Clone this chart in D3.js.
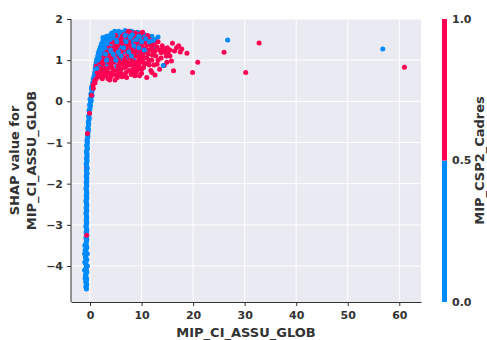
<!DOCTYPE html>
<html>
<head>
<meta charset="utf-8">
<script src="https://cdn.jsdelivr.net/npm/d3@7"></script>
<style>
  body { margin: 0; background: #fff; }
  text { font-family: "DejaVu Sans", sans-serif; font-weight: bold; fill: #333; }
</style>
</head>
<body>
<svg id="chart"></svg>
<script>
// tick labels
const xTicks = [0, 10, 20, 30, 40, 50, 60];
const yTicks = [-4, -3, -2, -1, 0, 1, 2];
const cbarTicks = [0, 0.5, 1];

// points as [MIP_CI_ASSU_GLOB, SHAP value]; grouped by MIP_CSP2_Cadres (0 = blue, 1 = red)
const stripeRedUnder = [[-0.75, -4.1], [-0.7, -1.62], [-0.8, -3.5]];
const stripeBlue = [
  [-0.7, -4.56], [-0.8, -4.5], [-0.65, -4.44], [-0.85, -4.38], [-0.7, -4.3], [-0.9, -4.22],
  [-0.6, -4.15], [-0.85, -4.08], [-0.7, -4.0], [-0.95, -3.92], [-0.6, -3.85], [-0.9, -3.78],
  [-0.7, -3.7], [-0.95, -3.62], [-0.6, -3.55], [-0.85, -3.48], [-0.7, -3.4], [-0.8, -3.32],
  [-0.6, -3.25], [-0.75, -3.18], [-0.65, -3.1], [-0.8, -3.02], [-0.6, -2.95], [-0.75, -2.88],
  [-0.65, -2.8], [-0.8, -2.72], [-0.6, -2.65], [-0.75, -2.58], [-0.65, -2.5], [-0.8, -2.42],
  [-0.6, -2.35], [-0.75, -2.28], [-0.65, -2.2], [-0.8, -2.12], [-0.6, -2.05], [-0.75, -1.98],
  [-0.65, -1.9], [-0.75, -1.82], [-0.55, -1.75], [-0.7, -1.68], [-0.6, -1.6], [-0.75, -1.52],
  [-0.55, -1.45], [-0.7, -1.38], [-0.6, -1.3], [-0.7, -1.22], [-0.5, -1.15], [-0.65, -1.08],
  [-0.55, -1.0], [-1.05, -4.1], [-1.0, -3.9], [-1.05, -3.7], [-0.95, -4.3], [-1.0, -3.5],
  [-0.5, -4.0], [-0.5, -3.7],
  [-0.6, -0.94], [-0.45, -0.88], [-0.5, -0.8], [-0.35, -0.72], [-0.45, -0.65], [-0.3, -0.58],
  [-0.35, -0.5], [-0.2, -0.44], [-0.3, -0.36], [-0.1, -0.3], [-0.2, -0.22], [0.0, -0.15],
  [-0.1, -0.08], [0.1, -0.02], [0.0, 0.05], [0.2, 0.1], [0.15, 0.18], [0.35, 0.22],
  [0.3, 0.3], [0.5, 0.38]
];
const stripeBlue2 = [
  [-0.75, -4.53], [-0.7, -4.47], [-0.75, -4.41], [-0.65, -4.34], [-0.8, -4.26], [-0.75, -4.18],
  [-0.7, -4.12], [-0.75, -4.04], [-0.8, -3.96], [-0.75, -3.88], [-0.8, -3.82], [-0.75, -3.74],
  [-0.8, -3.66], [-0.75, -3.58], [-0.7, -3.52], [-0.75, -3.44], [-0.6, -3.36], [-0.7, -3.28],
  [-0.7, -3.21], [-0.6, -3.14], [-0.75, -3.06], [-0.7, -2.98], [-0.7, -2.91], [-0.65, -2.84],
  [-0.7, -2.76], [-0.7, -2.68], [-0.7, -2.62], [-0.6, -2.54], [-0.7, -2.46], [-0.7, -2.38],
  [-0.7, -2.31], [-0.6, -2.24], [-0.7, -2.16], [-0.7, -2.08], [-0.7, -2.01], [-0.6, -1.94],
  [-0.6, -1.86], [-0.65, -1.78], [-0.65, -1.71], [-0.55, -1.64], [-0.65, -1.56], [-0.65, -1.48],
  [-0.6, -1.41], [-0.55, -1.34], [-0.6, -1.26], [-0.6, -1.18], [-0.55, -1.11], [-0.55, -1.04],
  [-0.5, -0.97], [-0.4, -0.84], [-0.4, -0.76], [-0.3, -0.68], [-0.25, -0.54], [-0.15, -0.4],
  [-0.05, -0.2], [0.1, -0.1], [0.25, 0.02], [0.4, 0.14], [0.45, 0.28]
];
const cloudBlue = [
  [0.3, 0.35], [0.5, 0.45], [0.6, 0.55], [0.8, 0.62], [0.9, 0.7], [1.0, 0.8], [1.1, 0.88],
  [1.2, 0.95], [1.3, 1.02], [1.5, 1.1], [1.6, 1.18], [1.8, 1.25], [2.0, 1.32], [2.2, 1.4],
  [2.5, 1.47], [2.8, 1.52], [3.2, 1.58], [1.4, 0.75], [1.7, 0.9], [2.0, 1.0], [2.3, 1.1],
  [2.6, 1.2], [3.0, 1.3], [3.4, 1.38], [3.8, 1.45], [4.2, 1.55], [4.6, 1.62], [5.0, 1.66],
  [5.6, 1.7], [6.2, 1.68], [6.8, 1.72], [7.4, 1.66], [8.0, 1.7], [8.6, 1.64], [9.2, 1.68],
  [9.8, 1.6], [10.5, 1.62], [11.2, 1.55], [12.0, 1.58], [12.6, 1.5], [13.2, 1.56], [3.6, 1.2],
  [4.0, 1.3], [4.5, 1.4], [5.0, 1.5], [5.5, 1.55], [6.0, 1.58], [6.5, 1.5], [7.0, 1.56],
  [7.5, 1.6], [8.2, 1.52], [9.0, 1.55], [2.4, 0.85], [2.8, 0.95], [3.2, 1.05], [3.6, 1.0],
  [4.2, 1.12], [4.8, 1.22], [5.4, 1.3], [6.0, 1.35], [6.6, 1.42], [7.2, 1.38], [8.0, 1.45],
  [1.9, 0.72], [2.2, 0.78], [3.0, 0.88], [5.5, 1.1], [6.5, 1.2], [7.5, 1.25], [8.5, 1.3],
  [9.5, 1.4], [10.5, 1.45], [11.5, 1.4], [4.4, 0.95], [6.0, 0.98], [7.0, 1.05], [9.0, 1.15],
  [11.0, 1.2], [5.2, 0.85], [8.5, 1.0], [12.5, 1.3]
];
const cloudBlue2 = [
  [1.2, 0.7], [1.4, 0.9], [1.6, 1.0], [1.9, 1.1], [2.1, 1.22], [2.4, 1.3], [2.7, 1.38],
  [3.0, 1.45], [3.4, 1.52], [3.8, 1.6], [4.2, 1.66], [4.8, 1.7], [2.6, 1.02], [2.9, 1.12],
  [3.3, 1.25], [3.7, 1.32], [4.1, 1.4], [4.5, 1.5], [4.9, 1.56], [5.3, 1.62], [5.8, 1.62],
  [6.4, 1.64], [7.0, 1.68], [7.7, 1.7], [8.4, 1.68], [9.0, 1.62], [9.6, 1.66], [10.2, 1.58],
  [10.8, 1.6], [11.6, 1.5], [3.4, 0.92], [3.9, 1.02], [4.4, 1.2], [4.9, 1.32], [5.2, 1.4],
  [5.8, 1.45], [6.2, 1.46], [6.9, 1.5], [7.6, 1.5], [8.6, 1.48], [9.8, 1.48], [2.6, 0.78],
  [3.3, 0.82], [4.0, 1.05], [4.6, 1.05], [5.0, 1.15], [5.8, 1.28], [6.3, 1.3], [7.9, 1.38],
  [1.0, 0.6], [0.7, 0.5], [1.3, 0.65], [1.1, 0.72], [0.8, 0.52]
];
const cloudRed = [
  [0.6, 0.4], [0.9, 0.5], [1.2, 0.55], [1.5, 0.6], [1.8, 0.65], [2.2, 0.6], [2.6, 0.7],
  [3.0, 0.62], [3.5, 0.55], [4.0, 0.6], [4.85, 0.52], [5.5, 0.65], [6.2, 0.6], [7.1, 0.58],
  [8.7, 0.62], [11.0, 0.58], [12.6, 0.64], [1.4, 0.7], [2.0, 0.8], [2.5, 0.9], [3.0, 1.0],
  [3.5, 0.8], [4.0, 0.9], [4.5, 0.75], [5.0, 1.0], [5.5, 0.85], [6.0, 0.78], [6.5, 0.95],
  [7.0, 0.85], [7.5, 0.75], [8.0, 0.9], [8.5, 0.8], [9.0, 0.95], [9.5, 0.85], [10.0, 0.78],
  [10.5, 0.92], [11.5, 0.88], [12.0, 1.0], [13.0, 0.9], [14.4, 0.87], [16.2, 0.74], [3.2, 1.2],
  [3.8, 1.1], [4.3, 1.25], [4.8, 1.15], [5.3, 1.35], [5.8, 1.2], [6.3, 1.1], [6.8, 1.3],
  [7.3, 1.15], [7.8, 1.35], [8.3, 1.2], [8.8, 1.1], [9.3, 1.3], [9.8, 1.2], [10.3, 1.1],
  [10.8, 1.3], [11.3, 1.15], [11.8, 1.35], [12.3, 1.2], [12.8, 1.1], [13.5, 1.25], [14.0, 1.35],
  [14.5, 1.2], [15.0, 1.3], [15.5, 1.25], [16.0, 1.41], [16.8, 1.3], [17.2, 1.35], [17.8, 1.27],
  [18.8, 1.17], [6.0, 1.5], [6.6, 1.62], [7.2, 1.55], [7.8, 1.68], [8.5, 1.58], [9.2, 1.5],
  [9.8, 1.65], [10.5, 1.52], [11.2, 1.6], [11.8, 1.45], [12.5, 1.4], [13.2, 1.45], [4.2, 1.45],
  [5.0, 1.6], [5.6, 1.42], [3.4, 1.35], [2.6, 1.15], [2.2, 1.05], [1.8, 0.95], [1.2, 0.85],
  [6.8, 1.0], [7.8, 1.05], [8.2, 0.98], [9.5, 1.02], [10.2, 1.0], [11.0, 1.05], [13.8, 1.05],
  [15.5, 1.1], [4.6, 0.65], [3.0, 0.75], [7.0, 0.7], [9.0, 0.72], [10.0, 0.68], [13.5, 0.78],
  [11.8, 0.75], [8.0, 0.65], [6.0, 0.68], [2.4, 0.55], [1.0, 0.45]
];
const cloudRed2 = [
  [2.8, 0.8], [3.3, 0.7], [3.8, 0.68], [4.3, 0.82], [4.7, 0.95], [5.2, 0.75], [5.7, 0.95],
  [6.2, 0.9], [6.7, 0.82], [7.3, 0.95], [7.7, 0.88], [8.3, 0.78], [8.8, 0.88], [9.3, 0.78],
  [9.8, 0.95], [10.4, 0.82], [11.0, 0.92], [11.5, 1.0], [12.4, 0.88], [13.2, 1.0], [3.6, 0.95],
  [4.2, 1.02], [4.6, 1.3], [5.1, 1.25], [5.6, 1.05], [6.1, 1.22], [6.6, 1.05], [7.1, 1.25],
  [7.6, 1.12], [8.1, 1.28], [8.6, 1.18], [9.1, 1.22], [9.6, 1.1], [10.1, 1.28], [10.6, 1.2],
  [11.1, 1.38], [11.6, 1.25], [12.1, 1.12], [12.6, 1.22], [13.0, 1.32], [13.8, 1.18], [14.3, 1.28],
  [14.8, 1.1], [15.2, 1.2], [16.4, 1.22], [17.5, 1.2], [6.4, 1.4], [7.0, 1.35], [7.5, 1.45],
  [8.0, 1.55], [8.8, 1.4], [9.4, 1.45], [10.0, 1.35], [10.8, 1.42], [11.5, 1.5], [12.0, 1.3],
  [6.3, 1.58], [7.4, 1.7], [8.8, 1.66], [10.2, 1.68], [4.8, 1.42], [3.9, 1.28], [2.8, 1.05],
  [2.4, 0.95], [5.3, 0.58], [6.6, 0.64], [8.3, 0.7], [9.6, 0.62], [12.0, 0.7], [14.9, 0.95],
  [15.8, 0.98], [3.8, 0.52], [2.0, 0.68], [1.6, 0.78]
];
const stripeRedOver = [[-0.65, -3.25], [-0.5, -0.78], [-0.1, -0.29], [0.3, 0.15], [0.65, 0.32]];
const blueTop = [
  [6.8, 1.6], [8.2, 1.62], [9.5, 1.58], [10.8, 1.52], [12.2, 1.48], [5.2, 1.45], [4.0, 1.25],
  [3.0, 1.15], [2.0, 1.15], [1.5, 1.0], [3.5, 1.5], [7.0, 1.45], [9.5, 1.3], [14.2, 0.87],
  [1.8, 1.05], [2.3, 1.25], [2.8, 1.3], [3.3, 1.4], [1.3, 0.8], [2.5, 1.55], [4.5, 1.6], [3.9, 1.5],
  [5.5, 1.2], [6.5, 1.3], [7.5, 1.2], [8.5, 1.35], [9.0, 1.5], [10.0, 1.45], [5.0, 1.0],
  [4.5, 1.15], [6.0, 1.1], [11.5, 1.45], [7.8, 1.55], [3.2, 1.0], [8.0, 1.1], [10.5, 1.25]
];
const outlierBlue = [[26.7, 1.49], [56.8, 1.27]];
const outlierRed = [[26.0, 1.19], [32.8, 1.42], [30.2, 0.70], [61.0, 0.83], [20.9, 0.95], [19.9, 0.70]];

// draw order with the cadres value of each group
const layers = [
  [stripeRedUnder, 1], [stripeBlue, 0], [stripeBlue2, 0], [cloudBlue, 0], [cloudBlue2, 0],
  [cloudRed, 1], [cloudRed2, 1], [stripeRedOver, 1], [blueTop, 0], [outlierBlue, 0], [outlierRed, 1]
];

const W = 487, H = 340;
const margin = { top: 19, left: 71, right: 66, bottom: 38 };
const width = W - margin.left - margin.right,
  height = H - margin.top - margin.bottom;

const svg = d3.select('#chart').attr('width', W).attr('height', H);

const x = d3.scaleLinear().domain([-3.69, 64.21]).range([0, width]);
const y = d3.scaleLinear().domain([-4.874, 2]).range([height, 0]);
const color = d3.scaleThreshold().domain([0.5]).range(['#008BFB', '#FF0052']);

const g = svg.append('g').attr('transform', `translate(${margin.left},${margin.top})`);

g.append('rect').attr('width', width).attr('height', height).attr('fill', '#EAEAF2');

// grid
g.append('g').selectAll('line').data(xTicks).enter().append('line')
  .attr('x1', d => x(d)).attr('x2', d => x(d)).attr('y1', 0).attr('y2', height)
  .attr('stroke', '#fff').attr('stroke-width', 1);
g.append('g').selectAll('line').data(yTicks).enter().append('line')
  .attr('y1', d => y(d)).attr('y2', d => y(d)).attr('x1', 0).attr('x2', width)
  .attr('stroke', '#fff').attr('stroke-width', 1);

// points
layers.forEach(([pts, c]) => {
  g.append('g').selectAll('circle').data(pts).enter().append('circle')
    .attr('cx', d => x(d[0])).attr('cy', d => y(d[1]))
    .attr('r', 2.5).attr('fill', color(c));
});

// axes
const xAxis = g.append('g').attr('transform', `translate(0,${height})`)
  .call(d3.axisBottom(x).tickValues(xTicks).tickSize(4).tickPadding(5).tickSizeOuter(0));
const yAxis = g.append('g')
  .call(d3.axisLeft(y).tickValues(yTicks).tickSize(4).tickPadding(4).tickSizeOuter(0)
    .tickFormat(d => d < 0 ? '\u2212' + Math.abs(d) : d));
[xAxis, yAxis].forEach(a => {
  a.select('.domain').attr('stroke', '#333');
  a.selectAll('.tick line').attr('stroke', '#333');
  a.selectAll('.tick text').attr('font-size', 11).attr('font-family', null).attr('fill', '#333');
});
yAxis.select('.domain').attr('d', `M0,0V${height}`);

// axis labels
g.append('text').attr('x', width / 2).attr('y', height + 35)
  .attr('text-anchor', 'middle').attr('font-size', 13).text('MIP_CI_ASSU_GLOB');
const yl = g.append('text').attr('text-anchor', 'middle').attr('font-size', 13)
  .attr('transform', `translate(-52,${height / 2}) rotate(-90)`);
yl.append('tspan').attr('x', 0).attr('dy', 0).text('SHAP value for');
yl.append('tspan').attr('x', 0).attr('dy', 17).text('MIP_CI_ASSU_GLOB');

// colorbar
const cb = svg.append('g').attr('transform', `translate(442,${margin.top})`);
const cy = d3.scaleLinear().domain([0, 1]).range([height, 0]);
cb.selectAll('rect').data([[0, 0.5], [0.5, 1]]).enter().append('rect')
  .attr('x', 0).attr('width', 5)
  .attr('y', d => cy(d[1])).attr('height', d => cy(d[0]) - cy(d[1]))
  .attr('fill', d => color(d[0]));
cb.selectAll('.cbt').data(cbarTicks).enter().append('text')
  .attr('x', 10).attr('y', d => cy(d)).attr('dy', '0.35em')
  .attr('font-size', 11).text(d => d3.format('.1f')(d));
cb.append('text').attr('text-anchor', 'middle').attr('font-size', 13)
  .attr('transform', `translate(42,${height / 2}) rotate(-90)`).text('MIP_CSP2_Cadres');
</script>
</body>
</html>
